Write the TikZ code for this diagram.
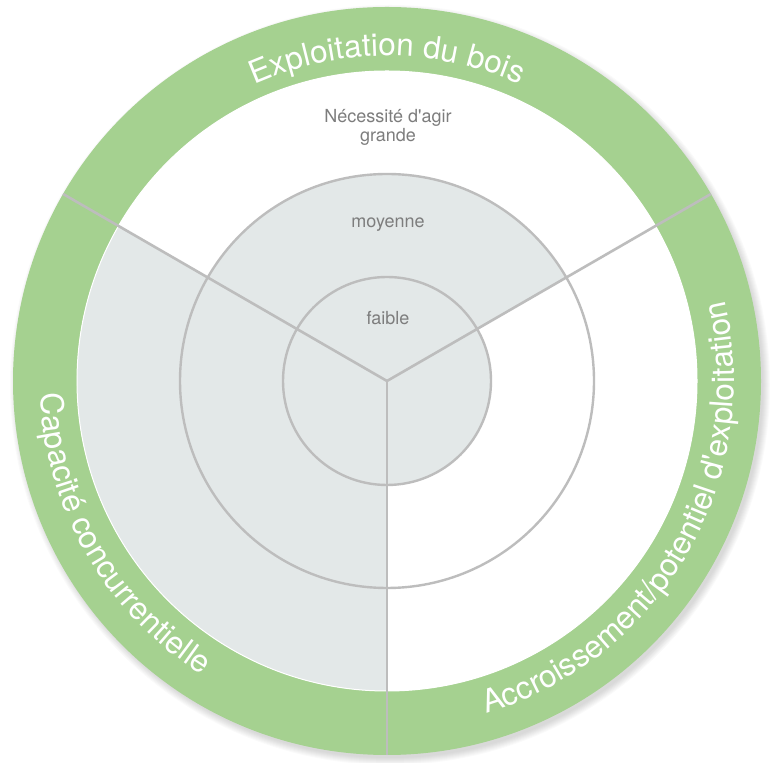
\documentclass[tikz,border=0pt]{standalone}
\usepackage{fontspec}
\setmainfont{TeX Gyre Heros}[Ligatures=TeXOff]
\usetikzlibrary{decorations.text,calc}
\definecolor{ringgreen}{RGB}{165,209,144}
\definecolor{panegray}{RGB}{227,232,232}
\definecolor{rulegray}{RGB}{189,189,189}
\definecolor{labelgray}{RGB}{125,125,125}
\tikzset{
  ringlabel/.style={decorate, decoration={text along path, text align=center,
      text color=white, text={|\fontsize{31.5}{32}\selectfont|#1}}},
  rule/.style={draw=rulegray, line width=2.6pt},
  levellabel/.style={text=labelgray, font=\fontsize{18}{19}\selectfont, align=center, inner sep=0pt},
}
\begin{document}
\begin{tikzpicture}[x=1pt,y=1pt]
\useasboundingbox (0,0) rectangle (770,762);
\coordinate (c) at (387,381);

% soft drop shadow behind the ring
\foreach \k in {7,6,...,0}
  \fill[black, opacity=0.02] ($(c)+(3,-4)$) circle[radius=373+\k];

% outer green ring and white interior
\fill[ringgreen] (c) circle[radius=374];
\fill[white] (c) circle[radius=310];

% shaded zones: left sector, top sector up to the middle circle, inner disc
\fill[panegray] (c) -- ($(c)+(150:310)$) arc[start angle=150, end angle=270, radius=310] -- cycle;
\fill[panegray] (c) -- ($(c)+(30:207)$) arc[start angle=30, end angle=150, radius=207] -- cycle;
\fill[panegray] (c) circle[radius=104];
\draw[white, line width=1pt] (c) circle[radius=310];

% level circles
\draw[rule, line width=2.4pt] (c) circle[radius=207];
\draw[rule, line width=2.4pt] (c) circle[radius=104];

% sector dividers
\coordinate (d1) at ($(c)+(30:374)$);
\coordinate (d2) at ($(c)+(150:374)$);
\coordinate (d3) at ($(c)+(270:374)$);
\draw[rule] (c) -- (d1);
\draw[rule] (c) -- (d2);
\draw[rule] (c) -- (d3);

% ring labels
\path[ringlabel={Exploitation du bois}]
  ($(c)+(150:325)$) arc[start angle=150, end angle=30, radius=325];
\path[ringlabel={Capacité concurrentielle}]
  ($(c)+(140:347)$) arc[start angle=140, end angle=280, radius=347];
\path[ringlabel={Accroissement/potentiel d'exploitation}]
  ($(c)+(-110:347)$) arc[start angle=-110, end angle=50, radius=347];

% level labels
\node[levellabel] (grande) at (388,635) {Nécessité d'agir\\grande};
\node[levellabel] (moyenne) at (388,537) {moyenne};
\node[levellabel] (faible) at (388,444) {faible};
\end{tikzpicture}
\end{document}
